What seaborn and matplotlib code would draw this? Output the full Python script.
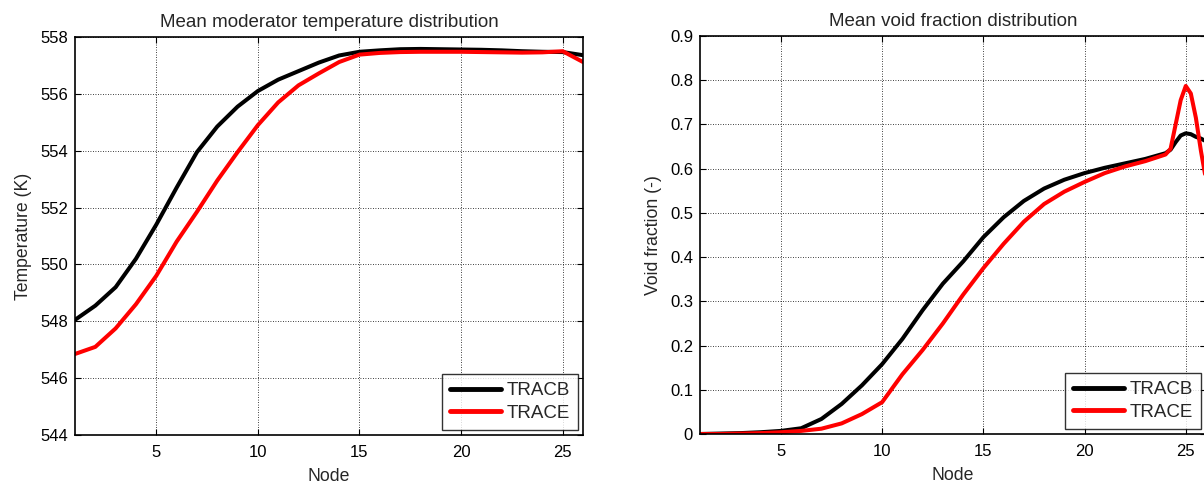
import numpy as np
import pandas as pd
import matplotlib
matplotlib.use("Agg")
import matplotlib.pyplot as plt
import seaborn as sns
from matplotlib.ticker import FuncFormatter

# ---------------- data ----------------
nodes_T = list(range(1, 27))
tracb_T = [548.05, 548.55, 549.2, 550.2, 551.4, 552.7, 553.95, 554.85, 555.55, 556.1,
           556.5, 556.8, 557.1, 557.35, 557.48, 557.53, 557.57, 557.58, 557.57, 557.56,
           557.55, 557.53, 557.5, 557.48, 557.47, 557.36]
trace_T = [546.85, 547.1, 547.75, 548.6, 549.6, 550.8, 551.85, 552.95, 553.95, 554.9,
           555.7, 556.3, 556.72, 557.12, 557.38, 557.44, 557.47, 557.48, 557.48, 557.48,
           557.47, 557.46, 557.45, 557.46, 557.5, 557.12]

nodes_V = list(range(1, 25)) + [24.25, 24.5, 24.75, 25, 25.25, 25.5, 25.75, 26]
tracb_V = [0.0, 0.001, 0.002, 0.004, 0.007, 0.013, 0.034, 0.068, 0.11, 0.158,
           0.215, 0.28, 0.34, 0.39, 0.445, 0.49, 0.527, 0.555, 0.575, 0.59,
           0.602, 0.612, 0.622, 0.635, 0.643, 0.66, 0.675, 0.68, 0.678, 0.672, 0.668, 0.662]
trace_V = [0.0, 0.0, 0.001, 0.002, 0.004, 0.007, 0.012, 0.024, 0.045, 0.072,
           0.135, 0.19, 0.25, 0.315, 0.375, 0.43, 0.48, 0.52, 0.548, 0.57,
           0.59, 0.605, 0.617, 0.632, 0.645, 0.70, 0.755, 0.787, 0.77, 0.715, 0.64, 0.575]

series_names = ["TRACB", "TRACE"]
colors = {"TRACB": "black", "TRACE": "red"}

temp_ticks = [544, 546, 548, 550, 552, 554, 556, 558]
void_ticks = [0, 0.1, 0.2, 0.3, 0.4, 0.5, 0.6, 0.7, 0.8, 0.9]
node_ticks = [5, 10, 15, 20, 25]

df_T = pd.DataFrame({
    "Node": nodes_T * 2,
    "value": tracb_T + trace_T,
    "Code": ["TRACB"] * len(nodes_T) + ["TRACE"] * len(nodes_T),
})
df_V = pd.DataFrame({
    "Node": nodes_V * 2,
    "value": tracb_V + trace_V,
    "Code": ["TRACB"] * len(nodes_V) + ["TRACE"] * len(nodes_V),
})

# ---------------- style ----------------
sns.set_style("white")
plt.rcParams["font.family"] = ["Liberation Sans", "DejaVu Sans"]
plt.rcParams["xtick.direction"] = "in"
plt.rcParams["ytick.direction"] = "in"

fig = plt.figure(figsize=(12.04, 4.87), dpi=100)
W, H = 1204, 487
ax1 = fig.add_axes([75 / W, (H - 435) / H, 508 / W, 398 / H])
ax2 = fig.add_axes([700 / W, (H - 434) / H, 506 / W, 398 / H])


def style(ax, title, ylabel, yticks, ylim, fmt=None):
    ax.set_xlim(1, 26)
    ax.set_ylim(*ylim)
    ax.set_xticks(node_ticks)
    ax.set_yticks(yticks)
    if fmt is not None:
        ax.yaxis.set_major_formatter(fmt)
    ax.grid(True, color="black", linestyle=(0, (1, 2)), linewidth=0.6)
    ax.set_axisbelow(True)
    for s in ax.spines.values():
        s.set_visible(True)
        s.set_color("black")
        s.set_linewidth(1.2)
    ax.tick_params(axis="both", which="both", direction="in", length=4, width=0.8,
                   labelsize=12, top=True, right=True, bottom=True, left=True,
                   colors="black")
    ax.tick_params(axis="x", pad=7)
    ax.tick_params(axis="y", pad=5)
    ax.set_title(title, fontsize=13.5, pad=7.5)
    ax.set_xlabel("Node", fontsize=12.7, labelpad=6)
    ax.set_ylabel(ylabel, fontsize=12.7, labelpad=6)
    leg = ax.legend(loc="lower right", fontsize=13.5, handlelength=2.7, frameon=True,
                    fancybox=False, borderpad=0.45, labelspacing=0.3,
                    handletextpad=0.3, borderaxespad=0.25)
    leg.get_frame().set_edgecolor("black")
    leg.get_frame().set_linewidth(1.0)
    for line in leg.get_lines():
        line.set_linewidth(3.5)


sns.lineplot(data=df_T, x="Node", y="value", hue="Code", hue_order=series_names,
             palette=colors, linewidth=2.9, estimator=None, sort=False, ax=ax1)
sns.lineplot(data=df_V, x="Node", y="value", hue="Code", hue_order=series_names,
             palette=colors, linewidth=2.9, estimator=None, sort=False, ax=ax2)

style(ax1, "Mean moderator temperature distribution", "Temperature (K)",
      temp_ticks, (544, 558))
style(ax2, "Mean void fraction distribution", "Void fraction (-)",
      void_ticks, (0, 0.9),
      FuncFormatter(lambda v, p: "0" if abs(v) < 1e-9 else f"{v:g}"))

fig.savefig("out.png", dpi=100)
